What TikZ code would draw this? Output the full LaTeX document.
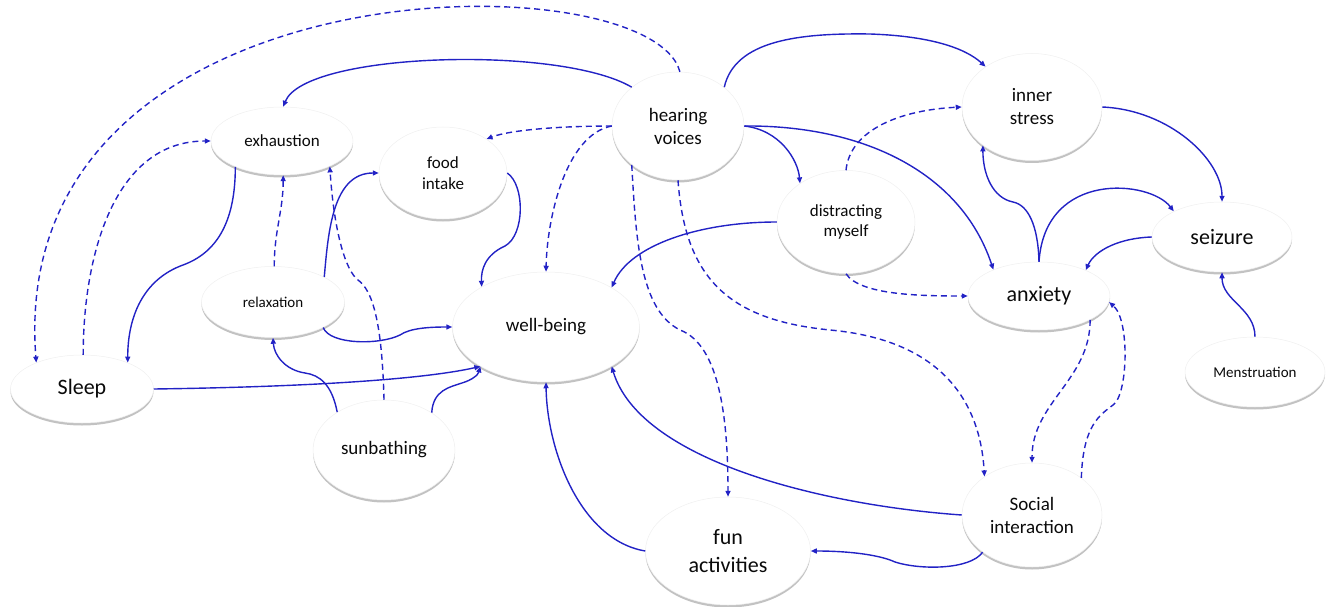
\documentclass[tikz,border=0pt]{standalone}
\usepackage{fontspec}
\setmainfont{Carlito}
\usetikzlibrary{shapes.geometric,shadows,arrows.meta}
\definecolor{arrowblue}{RGB}{34,34,197}
\definecolor{textgray}{RGB}{10,10,10}
\tikzset{
  bubble/.style={ellipse,fill=white,draw=gray!12,line width=0.5pt,inner sep=0pt,align=center,text=textgray,
    drop shadow={shadow xshift=0pt,shadow yshift=-2.5pt,fill=gray!80,opacity=0.6}},
  wh/.style 2 args={minimum width=#1pt,minimum height=#2pt},
  fsA/.style={font=\fontsize{15pt}{18pt}\selectfont},
  fsB/.style={font=\fontsize{17pt}{20.5pt}\selectfont},
  fsC/.style={font=\fontsize{19pt}{23pt}\selectfont},
  fsD/.style={font=\fontsize{22pt}{28pt}\selectfont},
  link/.style={arrowblue,line width=1.4pt,-{Triangle[length=6pt,width=5pt]}},
  weak/.style={link,dash pattern=on 6pt off 4pt}
}
\begin{document}
\begin{tikzpicture}[x=1pt,y=-1pt]
  \useasboundingbox (0,0) rectangle (1328,607);
  \node (exh) at (282,141) [bubble,wh={142}{68},fsB] {exhaustion};
  \node (food) at (443,173) [bubble,wh={128}{92},fsB] {food\\intake};
  \node (voices) at (678,126) [bubble,wh={132}{108},fsC] {hearing\\voices};
  \node (stress) at (1032,107) [bubble,wh={140}{107},fsC] {inner\\stress};
  \node (distr) at (846,222) [bubble,wh={138}{103},fsB] {distracting\\myself};
  \node (seiz) at (1222,237) [bubble,wh={140}{70},fsD] {seizure};
  \node (relax) at (273,302) [bubble,wh={143}{71},fsA] {relaxation};
  \node (well) at (546,327) [bubble,wh={187}{110},fsC] {well-being};
  \node (anx) at (1039,296) [bubble,wh={142}{68},fsD] {anxiety};
  \node (sleep) at (82,389) [bubble,wh={143}{68},fsD] {Sleep};
  \node (mens) at (1255,372) [bubble,wh={140}{70},fsA] {Menstruation};
  \node (sun) at (384,450) [bubble,wh={142}{100},fsC] {sunbathing};
  \node (fun) at (728,551) [bubble,wh={165}{108},fsD] {fun\\activities};
  \node (social) at (1032,515) [bubble,wh={140}{104},fsC] {Social\\interaction};

  \draw[weak] (voices.88) .. controls (650,-42) and (5,-42) .. (sleep.150);
  \draw[link] (voices.140) .. controls (560,45) and (305,52) .. (exh.88);
  \draw[weak] (sleep.88) to[out=90,in=180] (exh.west);
  \draw[link] (exh.209) to[out=-90,in=20] (183,265) to[out=200,in=90] (sleep.30);
  \draw[weak] (relax.88) to[out=90,in=-90] (exh.-88);
  \draw[weak] (sun.north) .. controls (382,320) and (372,290) .. (358,280) .. controls (345,270) and (334,230) .. (exh.-28);
  \draw[link] (relax.26) to[out=85,in=180] (food.west);
  \draw[link] (relax.-27) .. controls (330,345) and (380,345) .. (400,335) .. controls (410,328) and (430,327) .. (well.west);
  \draw[link] (sleep.east) .. controls (300,387) and (420,380) .. (well.211);
  \draw[link] (sun.38) .. controls (433,390) and (450,387) .. (462,383) .. controls (472,380) and (478,375) .. (well.211);
  \draw[link] (sun.141) .. controls (332,385) and (320,375) .. (305,373) .. controls (285,370) and (274,355) .. (relax.south);
  \draw[link] (food.east) .. controls (525,185) and (525,235) .. (505,246) .. controls (485,255) and (481,270) .. (well.148);
  \draw[weak] (voices.west) .. controls (560,126) and (510,130) .. (food.38);
  \draw[weak] (voices.west) .. controls (565,135) and (547,220) .. (well.north);
  \draw[weak] (voices.220) .. controls (636,240) and (640,310) .. (680,330) .. controls (720,345) and (728,420) .. (fun.north);
  \draw[weak] (voices.south) .. controls (685,280) and (730,320) .. (830,330) .. controls (940,340) and (980,400) .. (social.141);
  \draw[link] (voices.40) .. controls (735,40) and (800,33) .. (870,34) .. controls (930,36) and (965,48) .. (stress.139);
  \draw[link] (voices.east) .. controls (780,130) and (798,160) .. (distr.140);
  \draw[link] (voices.east) .. controls (860,125) and (960,170) .. (anx.150);
  \draw[weak] (distr.north) .. controls (850,130) and (900,110) .. (stress.west);
  \draw[link] (distr.west) .. controls (700,222) and (630,245) .. (well.31);
  \draw[weak] (distr.south) .. controls (860,295) and (920,296) .. (anx.west);
  \draw[link] (stress.east) .. controls (1170,110) and (1222,160) .. (seiz.north);
  \draw[link] (anx.north) .. controls (1038,225) and (1028,205) .. (1013,202) .. controls (993,198) and (983,175) .. (stress.218);
  \draw[link] (anx.north) .. controls (1045,170) and (1150,180) .. (seiz.152);
  \draw[link] (seiz.west) .. controls (1120,238) and (1095,250) .. (anx.29);
  \draw[link] (mens.north) to[out=90,in=-90] (seiz.south);
  \draw[weak] (anx.-25) to[out=-90,in=90] (social.north);
  \draw[weak] (social.37) .. controls (1083,425) and (1100,415) .. (1113,405) .. controls (1128,395) and (1130,320) .. (anx.-5);
  \draw[link] (social.west) .. controls (820,505) and (640,460) .. (well.-31);
  \draw[link] (social.217) .. controls (970,570) and (920,570) .. (895,562) .. controls (880,555) and (850,551) .. (fun.east);
  \draw[link] (fun.west) .. controls (580,540) and (547,450) .. (well.south);
\end{tikzpicture}
\end{document}
